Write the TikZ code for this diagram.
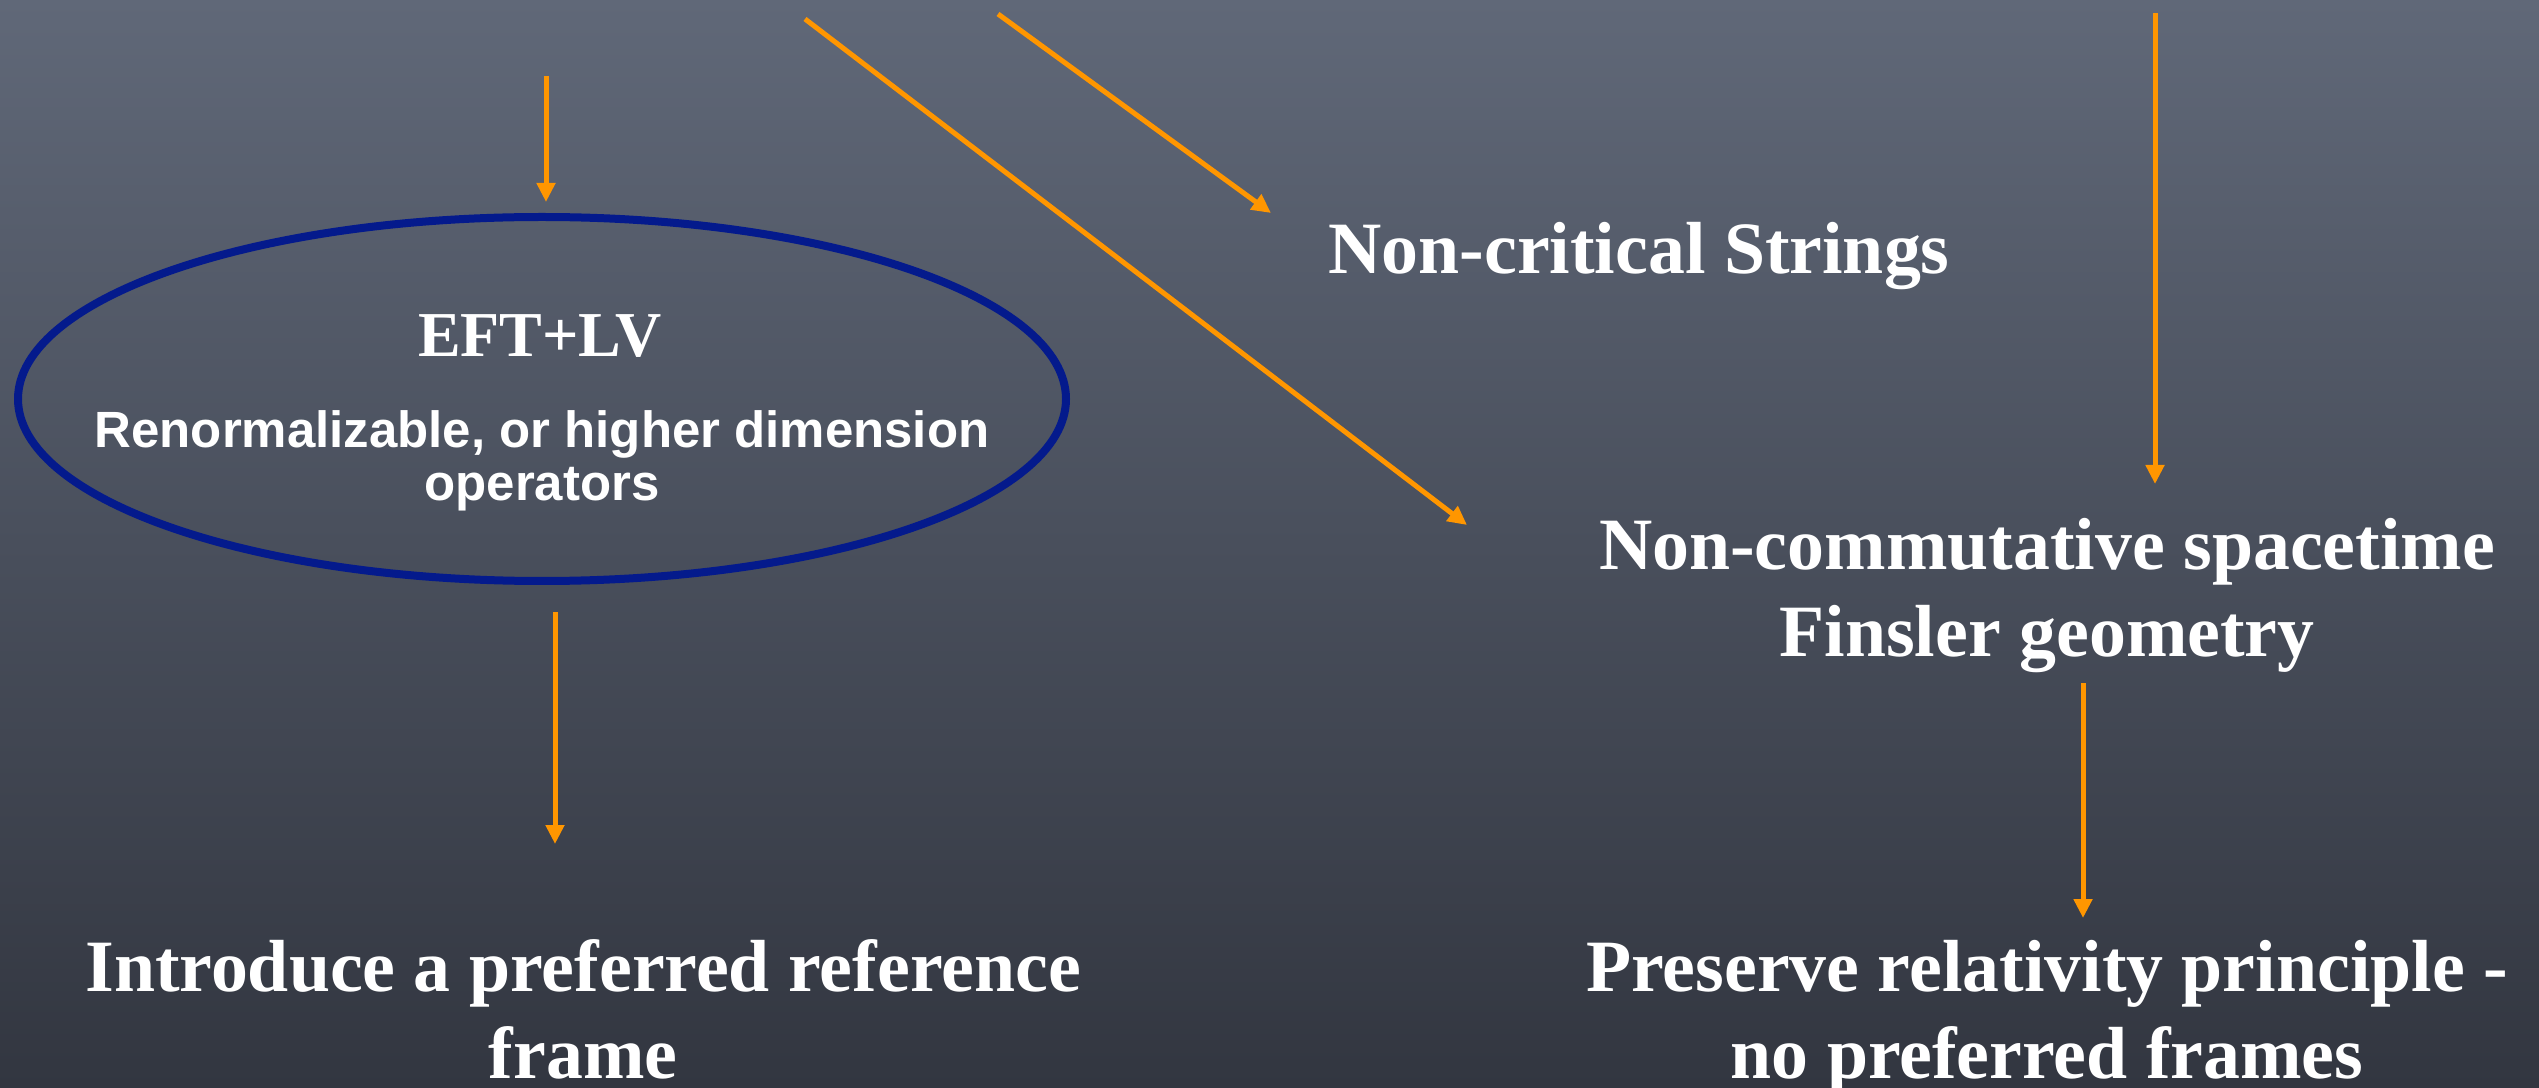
\documentclass[tikz,border=0pt]{standalone}
\usepackage{fontspec}
\setmainfont{Liberation Serif}
\setsansfont{Liberation Sans}
\usetikzlibrary{arrows.meta,shapes.geometric,calc}
\definecolor{arrowor}{RGB}{255,150,0}
\definecolor{eblue}{RGB}{4,26,140}
\definecolor{bgtop}{RGB}{96,104,120}
\definecolor{bgmid}{RGB}{78,85,100}
\definecolor{bgbot}{RGB}{50,54,64}
\begin{document}
\begin{tikzpicture}[x=0.1mm,y=-0.1mm,
  arr/.style={draw=arrowor,line width=0.5mm,-{Triangle[width=1.8mm,length=1.9mm]}},
  big/.style={text=white,font=\bfseries\fontsize{21pt}{24.5pt}\selectfont,align=center,inner sep=0pt},
  mid/.style={text=white,font=\bfseries\fontsize{18.2pt}{20pt}\selectfont,inner sep=0pt},
  small/.style={text=white,font=\sffamily\bfseries\fontsize{14.5pt}{15.1pt}\selectfont,align=center,inner sep=0pt}]
\shade[top color=bgtop,middle color=bgmid,bottom color=bgbot] (0,0) rectangle (2539,1088);
\useasboundingbox (0,0) rectangle (2539,1088);

\node[ellipse,draw=eblue,line width=0.8mm,minimum width=104.8mm,minimum height=36.4mm,inner sep=0pt] (eft) at (542,399) {};
\node[mid,anchor=base] (eftlv) at (540,357) {EFT+LV};
\node[small,anchor=base] (renorm) at (542,501) {Renormalizable, or higher dimension\\operators};
\node[big,anchor=base] (intro) at (583,1078) {Introduce a preferred reference\\frame};
\node[big,anchor=base] (ncs) at (1639,274) {Non-critical Strings};
\node[big,anchor=base] (ncst) at (2047,656) {Non-commutative spacetime\\Finsler geometry};
\node[big,anchor=base] (pres) at (2047,1078) {Preserve relativity principle -\\no preferred frames};

\coordinate (s1) at (546,76);
\draw[arr,shorten >=1.1mm] (s1) -- (s1 |- eft.north);
\coordinate (t2) at (555,844);
\draw[arr,shorten <=2.7mm] (eft.south -| t2) -- (t2);
\coordinate (s3) at (805,19);
\coordinate (t3) at (1467,525);
\draw[arr] (s3) -- (t3);
\coordinate (s4) at (998,14);
\coordinate (t4) at (1271,213);
\draw[arr] (s4) -- (t4);
\coordinate (s5) at (2155,13);
\coordinate (t5) at (2155,484);
\draw[arr] (s5) -- (t5);
\coordinate (s6) at (2083,683);
\coordinate (t6) at (2083,918);
\draw[arr] (s6) -- (t6);
\end{tikzpicture}
\end{document}
